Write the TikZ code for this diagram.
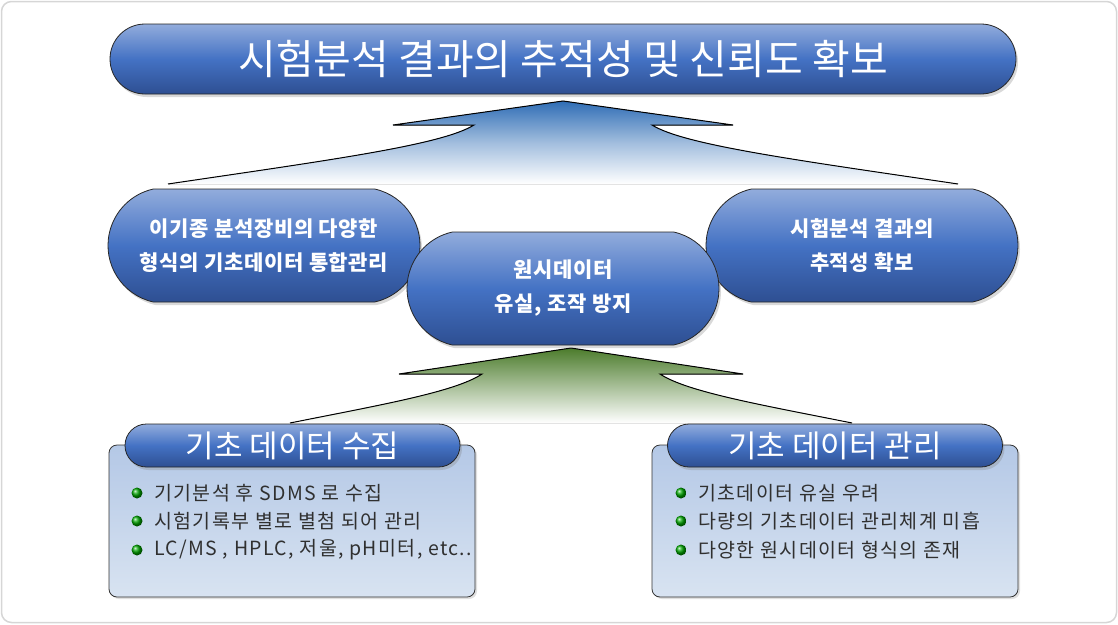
\documentclass[tikz,border=0pt]{standalone}
\usepackage{fontspec}
\setmainfont{Noto Sans CJK KR}
\usetikzlibrary{shapes.misc,shadows}
\definecolor{pilltop}{HTML}{92ACDC}
\definecolor{pillmid}{HTML}{4472C4}
\definecolor{pillbot}{HTML}{2E4F92}
\definecolor{boxtop}{HTML}{B4C8E6}
\definecolor{boxbot}{HTML}{D8E3F1}
\definecolor{arrowblue}{HTML}{2F6DB5}
\definecolor{arrowgreen}{HTML}{4C7C2C}
\definecolor{bullettext}{HTML}{303030}
\definecolor{framegray}{HTML}{D6D6D6}
\begin{document}
\begin{tikzpicture}[x=1pt,y=-1pt,
  pill/.style={rounded rectangle, draw=black!85, line width=0.8pt,
    top color=pilltop, bottom color=pillbot, middle color=pillmid,
    text=white, align=center, inner sep=0pt,
    drop shadow={opacity=0.3, shadow xshift=2pt, shadow yshift=-3pt}},
  bigpill/.style={pill, rounded rectangle arc length=155,
    minimum width=312pt, minimum height=113pt,
    font=\fontsize{21}{34}\selectfont\bfseries\addfontfeature{LetterSpace=3}},
  headpill/.style={pill, minimum width=335pt, minimum height=43pt,
    font=\fontsize{31}{34}\selectfont},
  infobox/.style={rectangle, rounded corners=8pt, draw=black!80, line width=0.8pt,
    top color=boxtop, bottom color=boxbot, minimum width=366pt, minimum height=152pt,
    drop shadow={opacity=0.25, shadow xshift=2pt, shadow yshift=-2pt}},
  bullettxt/.style={anchor=west, inner sep=0pt, text=bullettext,
    font=\fontsize{19.5}{22}\selectfont\addfontfeature{LetterSpace=7}},
  ball/.style={circle, inner sep=0pt, minimum size=11pt, shading=ball, ball color=green!65!black},
  arrowline/.style={draw=black, line width=1pt}
]
\useasboundingbox (0,0) rectangle (1118,624);
\draw[framegray, line width=1.5pt, rounded corners=10pt] (1.5,1.5) rectangle (1116.5,622.5);

% blue upward arrow
\fill[top color=arrowblue, bottom color=white, middle color=arrowblue!45]
  (168,184) .. controls (330,160) and (442,145) .. (474,125) -- (393,125) -- (563,101)
  -- (733,125) -- (652,125) .. controls (684,145) and (796,160) .. (958,184) -- cycle;
\draw[arrowline]
  (168,184) .. controls (330,160) and (442,145) .. (474,125) -- (393,125) -- (563,101)
  -- (733,125) -- (652,125) .. controls (684,145) and (796,160) .. (958,184);

% green upward arrow
\fill[top color=arrowgreen, bottom color=white, middle color=arrowgreen!50]
  (290,423) .. controls (380,405) and (455,392) .. (482,374) -- (399,374) -- (571,348)
  -- (743,374) -- (660,374) .. controls (687,392) and (762,405) .. (852,423) -- cycle;
\draw[arrowline]
  (290,423) .. controls (380,405) and (455,392) .. (482,374) -- (399,374) -- (571,348)
  -- (743,374) -- (660,374) .. controls (687,392) and (762,405) .. (852,423);

% pills
\node[bigpill] (left) at (264,245.5) {이기종 분석장비의 다양한\\형식의 기초데이터 통합관리};
\node[bigpill] (right) at (862,245.5) {시험분석 결과의\\추적성 확보};
\node[bigpill] (center) at (563,288.5) {원시데이터\\유실, 조작 방지};
\node[pill, minimum width=906pt, minimum height=70pt, font=\fontsize{41}{44}\selectfont]
  (title) at (563,59) {시험분석 결과의 추적성 및 신뢰도 확보};

% bottom boxes
\node[infobox] (boxL) at (292,521) {};
\node[infobox] (boxR) at (835,521) {};
\node[headpill] (headL) at (292.5,445.5) {기초 데이터 수집};
\node[headpill] (headR) at (835,445.5) {기초 데이터 관리};

% bullets left
\node[ball] (bl1) at (137,493) {};
\node[ball] (bl2) at (137,521) {};
\node[ball] (bl3) at (137,550) {};
\node[bullettxt] (tl1) at (154,493) {기기분석 후 SDMS 로 수집};
\node[bullettxt] (tl2) at (154,521) {시험기록부 별로 별첨 되어 관리};
\node[bullettxt] (tl3) at (154,550) {LC/MS , HPLC, 저울, pH미터, etc..};

% bullets right
\node[ball] (br1) at (681,493) {};
\node[ball] (br2) at (681,521) {};
\node[ball] (br3) at (681,550) {};
\node[bullettxt] (tr1) at (698,493) {기초데이터 유실 우려};
\node[bullettxt] (tr2) at (698,521) {다량의 기초데이터 관리체계 미흡};
\node[bullettxt] (tr3) at (698,550) {다양한 원시데이터 형식의 존재};
\end{tikzpicture}
\end{document}
